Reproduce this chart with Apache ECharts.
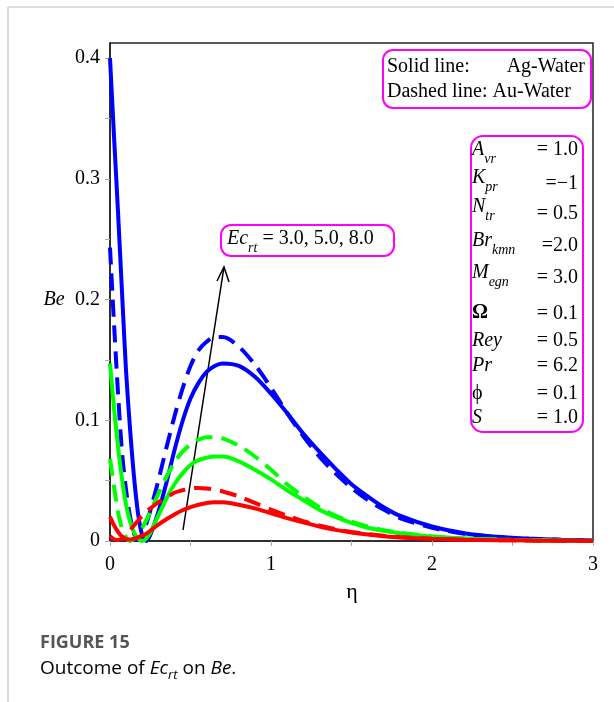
<!DOCTYPE html>
<html>
<head>
<meta charset="utf-8">
<script src="https://cdn.jsdelivr.net/npm/echarts@6/dist/echarts.min.js"></script>
<style>
  html, body { margin: 0; padding: 0; background: #fff; }
  #chart { width: 614px; height: 702px; }
</style>
</head>
<body>
<div id="chart"></div>
<script>
// eta grid shared by every curve
var eta = [0, 0.025, 0.05, 0.075, 0.1, 0.125, 0.15, 0.175, 0.2, 0.225, 0.25, 0.3, 0.35, 0.4, 0.45, 0.5,
  0.55, 0.6, 0.65, 0.7, 0.8, 0.9, 1.0, 1.1, 1.2, 1.3, 1.4, 1.5, 1.6, 1.7, 1.8, 2.0, 2.2, 2.4, 2.6, 2.8, 3.0];

// Be values (Ag = solid, Au = dashed)
var agEc8 = [0.400, 0.335, 0.272, 0.205, 0.140, 0.092, 0.052, 0.022, 0.005, 0.000, 0.005, 0.024, 0.048, 0.075, 0.099, 0.118,
  0.131, 0.140, 0.145, 0.147, 0.145, 0.136, 0.122, 0.106, 0.089, 0.074, 0.060, 0.047, 0.037, 0.028, 0.021, 0.012, 0.0065, 0.0035, 0.002, 0.001, 0.0005];
var auEc8 = [0.243, 0.180, 0.122, 0.073, 0.042, 0.020, 0.006, 0.001, 0.006, 0.014, 0.025, 0.050, 0.077, 0.103, 0.126, 0.145,
  0.158, 0.165, 0.169, 0.169, 0.161, 0.146, 0.127, 0.106, 0.087, 0.070, 0.056, 0.044, 0.034, 0.026, 0.019, 0.011, 0.006, 0.0032, 0.0018, 0.001, 0.0005];
var agEc5 = [0.147, 0.110, 0.078, 0.051, 0.030, 0.016, 0.007, 0.002, 0.000, 0.002, 0.007, 0.021, 0.035, 0.047, 0.056, 0.063,
  0.067, 0.069, 0.070, 0.070, 0.066, 0.059, 0.051, 0.042, 0.034, 0.026, 0.020, 0.015, 0.011, 0.0085, 0.0065, 0.0037, 0.002, 0.0012, 0.0007, 0.0004, 0.0002];
var auEc5 = [0.068, 0.045, 0.024, 0.010, 0.003, 0.000, 0.002, 0.006, 0.011, 0.017, 0.024, 0.039, 0.053, 0.065, 0.074, 0.080,
  0.084, 0.086, 0.086, 0.085, 0.079, 0.070, 0.059, 0.047, 0.037, 0.028, 0.021, 0.016, 0.012, 0.009, 0.0068, 0.0038, 0.0021, 0.0012, 0.0007, 0.0004, 0.0002];
var agEc3 = [0.020, 0.013, 0.0075, 0.0035, 0.0015, 0.0012, 0.002, 0.003, 0.0045, 0.006, 0.0085, 0.0135, 0.018, 0.022, 0.0255, 0.028,
  0.030, 0.0315, 0.032, 0.032, 0.030, 0.027, 0.023, 0.019, 0.0155, 0.012, 0.0092, 0.007, 0.0053, 0.004, 0.003, 0.0018, 0.0011, 0.0007, 0.0004, 0.0002, 0.0001];
var auEc3 = [0.004, 0.0015, 0.0008, 0.002, 0.005, 0.009, 0.013, 0.017, 0.021, 0.0245, 0.027, 0.032, 0.036, 0.040, 0.042, 0.0435,
  0.044, 0.0435, 0.0425, 0.041, 0.037, 0.0315, 0.026, 0.021, 0.0165, 0.0128, 0.0098, 0.0075, 0.0057, 0.0043, 0.0033, 0.0019, 0.0011, 0.0007, 0.0004, 0.0002, 0.0001];

var xTicks = [0, 1, 2, 3];
var yTicks = [0, 0.1, 0.2, 0.3, 0.4];

var params = [
  ['A', 'vr', '= 1.0'],
  ['K', 'pr', '=\u22121'],
  ['N', 'tr', '= 0.5'],
  ['Br', 'kmn', '=2.0'],
  ['M', 'egn', '= 3.0'],
  ['\u03A9', '', '= 0.1'],
  ['Rey', '', '= 0.5'],
  ['Pr', '', '= 6.2'],
  ['\u03D5', '', '= 0.1'],
  ['S', '', '= 1.0']
];

var SERIF = "'Liberation Serif', 'DejaVu Serif', serif";

function pairs(ys) {
  return eta.map(function (x, i) { return [x, ys[i]]; });
}

function curve(name, ys, color, dashed) {
  return {
    name: name,
    type: 'line',
    data: pairs(ys),
    smooth: 0.3,
    showSymbol: false,
    clip: true,
    lineStyle: { color: color, width: 4, type: dashed ? [17, 9] : 'solid' },
    silent: true
  };
}

var chart = echarts.init(document.getElementById('chart'));

// parameter box texts
var paramRows = [150, 178, 207, 241, 273, 313, 341, 366, 394, 418];
var paramVals = [150, 184, 214, 246, 278, 314, 341, 366, 394, 418];
var paramGraphics = [];
params.forEach(function (p, i) {
  var mainStyle = { fontSize: 20, fontFamily: SERIF, fontStyle: 'italic', lineHeight: 32, verticalAlign: 'middle' };
  if (p[0] === '\u03A9') { mainStyle.fontStyle = 'normal'; mainStyle.fontWeight = 'bold'; }
  if (p[0] === '\u03D5') { mainStyle.fontStyle = 'normal'; }
  paramGraphics.push({
    type: 'text', x: 472, y: paramRows[i],
    style: {
      text: '{m|' + p[0] + '}' + (p[1] ? '{s|' + p[1] + '}' : ''),
      align: 'left', verticalAlign: 'middle',
      rich: {
        m: mainStyle,
        s: { fontSize: 14, fontFamily: SERIF, fontStyle: 'italic', lineHeight: 14, verticalAlign: 'bottom' }
      },
      fill: '#000'
    }
  });
  paramGraphics.push({
    type: 'text', x: 578, y: paramVals[i],
    style: { text: p[2], font: '20px ' + SERIF, fill: '#000', align: 'right', verticalAlign: 'middle' }
  });
});

var option = {
  animation: false,
  backgroundColor: '#fff',
  grid: { left: 110, right: 21, top: 43, bottom: 161, show: true, borderColor: '#222', borderWidth: 1.5, containLabel: false },
  xAxis: {
    type: 'value', min: 0, max: 3, interval: 0.5,
    axisLine: { show: true, lineStyle: { color: '#222', width: 1.5 } },
    axisTick: { show: true, length: 5, lineStyle: { color: '#aaa' } },
    splitLine: { show: false },
    axisLabel: {
      margin: 14, fontSize: 20, fontFamily: SERIF, color: '#000',
      formatter: function (v) { return xTicks.indexOf(Math.round(v * 2) / 2) >= 0 ? String(Math.round(v)) : ''; }
    }
  },
  yAxis: {
    type: 'value', min: 0, max: 0.4125, interval: 0.05,
    axisLine: { show: true, lineStyle: { color: '#222', width: 1.5 } },
    axisTick: { show: true, length: 5, lineStyle: { color: '#aaa' } },
    splitLine: { show: false },
    axisLabel: {
      margin: 10, fontSize: 20, fontFamily: SERIF, color: '#000', showMaxLabel: false,
      formatter: function (v) {
        var r = Math.round(v * 20);
        if (r % 2 !== 0) return '';
        var t = Math.round(v * 10) / 10;
        return yTicks.indexOf(t) >= 0 ? (t === 0 ? '0' : t.toFixed(1)) : '';
      }
    }
  },
  series: [
    curve('Ag Ec=8', agEc8, '#0000ff', false),
    curve('Au Ec=8', auEc8, '#0000ff', true),
    curve('Ag Ec=5', agEc5, '#00ff00', false),
    curve('Au Ec=5', auEc5, '#00ff00', true),
    curve('Ag Ec=3', agEc3, '#ff0000', false),
    curve('Au Ec=3', auEc3, '#ff0000', true)
  ],
  graphic: [
    // page card edges
    { type: 'line', shape: { x1: 8, y1: 7, x2: 8, y2: 702 }, style: { stroke: '#cfcfcf', lineWidth: 1.5 } },
    { type: 'line', shape: { x1: 8, y1: 7, x2: 614, y2: 7 }, style: { stroke: '#cfcfcf', lineWidth: 1.5 } },
    // axis names
    { type: 'text', x: 54, y: 300, style: { text: 'Be', font: 'italic 20px ' + SERIF, fill: '#000', align: 'center', verticalAlign: 'middle' } },
    { type: 'text', x: 352, y: 592, style: { text: '\u03B7', font: '22px ' + SERIF, fill: '#000', align: 'center', verticalAlign: 'middle' } },
    // legend box
    { type: 'rect', shape: { x: 383, y: 50, width: 208, height: 58, r: 10 }, style: { fill: 'none', stroke: '#ff00ff', lineWidth: 2 } },
    { type: 'text', x: 387, y: 67, style: { text: 'Solid line:', font: '20px ' + SERIF, fill: '#000', align: 'left', verticalAlign: 'middle' } },
    { type: 'text', x: 585, y: 67, style: { text: 'Ag-Water', font: '20px ' + SERIF, fill: '#000', align: 'right', verticalAlign: 'middle' } },
    { type: 'text', x: 387, y: 92, style: { text: 'Dashed line: Au-Water', font: '20px ' + SERIF, fill: '#000', align: 'left', verticalAlign: 'middle' } },
    // parameter box
    { type: 'rect', shape: { x: 471, y: 136, width: 112, height: 296, r: 12 }, style: { fill: 'none', stroke: '#ff00ff', lineWidth: 2 } },
    // Ec box
    { type: 'rect', shape: { x: 221, y: 225, width: 173, height: 31, r: 10 }, style: { fill: 'none', stroke: '#ff00ff', lineWidth: 2 } },
    {
      type: 'text', x: 227, y: 239,
      style: {
        text: '{m|Ec}{s|rt}{n| = 3.0, 5.0, 8.0}', align: 'left', verticalAlign: 'middle',
        rich: {
          m: { fontSize: 20, fontFamily: SERIF, fontStyle: 'italic', lineHeight: 32, verticalAlign: 'middle' },
          s: { fontSize: 14, fontFamily: SERIF, fontStyle: 'italic', lineHeight: 14, verticalAlign: 'bottom' },
          n: { fontSize: 20, fontFamily: SERIF, lineHeight: 32, verticalAlign: 'middle' }
        }
      }
    },
    // arrow
    { type: 'line', shape: { x1: 183, y1: 530, x2: 224, y2: 267 }, style: { stroke: '#000', lineWidth: 1.5 } },
    { type: 'polyline', shape: { points: [[217, 281], [224, 267], [229, 282]] }, style: { stroke: '#000', lineWidth: 1.5, fill: 'none' } },
    // caption
    { type: 'text', x: 40, y: 643, style: { text: 'FIGURE 15', font: 'bold 18px "Open Sans", sans-serif', fill: '#555', align: 'left', verticalAlign: 'middle' } },
    {
      type: 'text', x: 40, y: 669,
      style: {
        text: '{n|Outcome of }{i|Ec}{s|rt}{n| on }{i|Be}{n|.}', align: 'left', verticalAlign: 'middle',
        rich: {
          n: { fontSize: 19, fontFamily: '"Open Sans", sans-serif', color: '#666', lineHeight: 26, verticalAlign: 'middle' },
          i: { fontSize: 19, fontFamily: '"Open Sans", sans-serif', fontStyle: 'italic', color: '#666', lineHeight: 26, verticalAlign: 'middle' },
          s: { fontSize: 13, fontFamily: '"Open Sans", sans-serif', fontStyle: 'italic', color: '#666', lineHeight: 12, verticalAlign: 'bottom' }
        }
      }
    }
  ].concat(paramGraphics)
};

chart.setOption(option);
</script>
</body>
</html>
